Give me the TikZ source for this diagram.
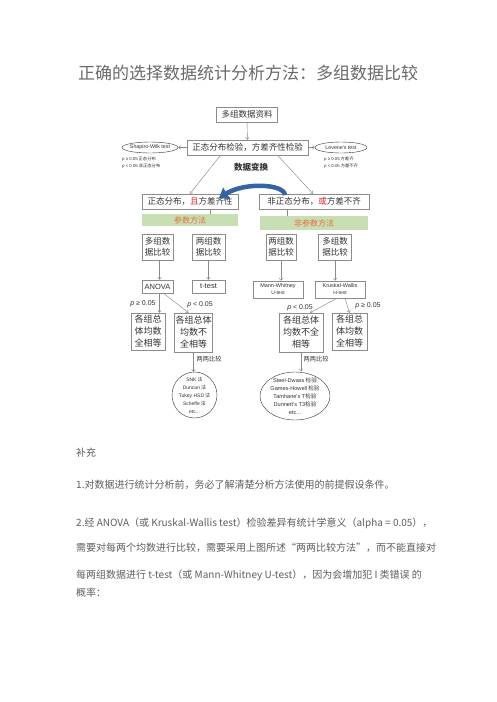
\documentclass[tikz,border=0pt]{standalone}
\usepackage{fontspec}
\setmainfont{Noto Sans CJK SC}
\newfontfamily\lat{Liberation Sans}
\usetikzlibrary{arrows.meta,shapes.geometric}
\definecolor{boxc}{HTML}{8C8C8C}
\definecolor{arrc}{HTML}{8A8A8A}
\definecolor{txt}{HTML}{333333}
\definecolor{bodyc}{HTML}{5E5E5E}
\definecolor{titlec}{HTML}{6A6A6A}
\definecolor{bandc}{HTML}{C8DFB4}
\definecolor{bandt}{HTML}{EB6A3C}
\definecolor{redc}{HTML}{E02020}
\definecolor{bluec}{HTML}{3463A6}
\begin{document}
\begin{tikzpicture}[x=1pt,y=-1pt,
  box/.style={draw=boxc, line width=0.5pt, inner sep=1pt, align=center, text=txt, font=\fontsize{8.5}{11}\selectfont},
  rbox/.style={box, font=\fontsize{9}{12}\selectfont},
  tbox/.style={box, font=\lat\fontsize{7.5}{9}\selectfont},
  band/.style={fill=bandc, inner sep=0pt, text=bandt, font=\fontsize{8}{10}\selectfont},
  ellshape/.style={draw=black!80, ellipse, line width=0.4pt, inner sep=0pt},
  elltext/.style={align=center, text=txt, inner sep=0pt},
  ln/.style={draw=arrc, line width=0.45pt},
  arr/.style={ln, -{Straight Barb[length=2.2pt,width=3.6pt]}},
  plab/.style={font=\lat\fontsize{7}{8}\selectfont, text=txt, inner sep=0pt},
  small/.style={font=\fontsize{4.3}{5.5}\selectfont, text=txt, inner sep=0pt, anchor=west},
  body/.style={anchor=west, inner sep=0pt, text=bodyc, font=\fontsize{10}{12}\selectfont}
]
\useasboundingbox[fill=white] (0,0) rectangle (496,702);

% title
\node[font=\fontsize{17}{20}\selectfont, text=titlec] (title) at (248,73) {正确的选择数据统计分析方法：多组数据比较};

% top part
\node[box, minimum width=61, minimum height=15] (top) at (247,114.5) {多组数据资料};
\node[box, minimum width=121, minimum height=15] (test) at (247.5,147.5) {正态分布检验，方差齐性检验};
\draw[arr] (top) -- (test);

\node[ellshape, minimum width=56, minimum height=11] (sw) at (150,147.5) {};
\node[elltext, font=\lat\fontsize{5.3}{6}\selectfont] (swt) at (sw) {Shapiro-Wilk test};
\node[ellshape, minimum width=52, minimum height=11] (lv) at (341,147.5) {};
\node[elltext, font=\lat\fontsize{5.3}{6}\selectfont] (lvt) at (lv) {Levene\textquotesingle s test};
\draw[arr] (test.west) -- (sw.east);
\draw[arr] (test.east) -- (lv.west);

\node[small] (sw1) at (122,159) {{\lat\textit{p} ≥ 0.05} 正态分布};
\node[small] (sw2) at (122,166) {{\lat\textit{p} < 0.05} 非正态分布};
\node[small] (lv1) at (324,159) {{\lat\textit{p} ≥ 0.05} 方差齐};
\node[small] (lv2) at (324,166) {{\lat\textit{p} < 0.05} 方差不齐};

\node[font=\bfseries\fontsize{8.5}{10}\selectfont, text=txt] (trans) at (251,167) {数据变换};

\node[box, minimum width=96, minimum height=15] (pn) at (190,201.5) {正态分布，\textcolor{redc}{且}方差齐性};
\node[box, minimum width=110, minimum height=15] (npn) at (314,201.5) {非正态分布，\textcolor{redc}{或}方差不齐};
\draw[arr] ([xshift=-27]test.south) -- (pn.north);
\draw[arr] ([xshift=30]test.south) -- ([xshift=-1]npn.north);

% blue curved arrow
\draw[bluec, line width=4.5pt, -{Triangle[length=9pt,width=13pt]}]
  (285,195) .. controls (284,184) and (245,182) .. (219,198);

% bands
\node[band, minimum width=96, minimum height=12] (pb) at (190,220) {参数方法};
\node[band, minimum width=108, minimum height=14] (npb) at (314,223) {非参数方法};
\draw[ln] ([xshift=20]pn.south) -- ([xshift=20]pn.south |- pb.north);
\draw[ln] ([xshift=-27]npn.south) -- ([xshift=-27]npn.south |- npb.north);

% sub boxes
\node[box, minimum width=31, minimum height=26] (s1) at (157.5,247) {多组数\\据比较};
\node[box, minimum width=33, minimum height=26] (s2) at (208.5,247) {两组数\\据比较};
\node[box, minimum width=30, minimum height=26] (s3) at (281,247) {两组数\\据比较};
\node[box, minimum width=33, minimum height=26] (s4) at (335,247) {多组数\\据比较};

% tests
\node[tbox, minimum width=31, minimum height=13] (a1) at (157.5,286.5) {ANOVA};
\node[tbox, minimum width=33, minimum height=13] (a2) at (208.5,286.5) {t-test};
\node[box, font=\lat\fontsize{5.5}{7}\selectfont, minimum width=50, minimum height=17] (a3) at (278,289.5) {Mann-Whitney\\{\fontsize{5}{6}\selectfont U-test}};
\node[box, font=\lat\fontsize{5.5}{7}\selectfont, minimum width=50, minimum height=17] (a4) at (340,289.5) {Kruskal-Wallis\\{\fontsize{5}{6}\selectfont H-test}};

\draw[arr] ([xshift=2]s1.south) -- ([xshift=2]s1.south |- a1.north);
\draw[arr] (s2.south) -- (s2.south |- a2.north);
\draw[arr] (s3.south) -- (s3.south |- a3.north);
\draw[arr] (s4.south) -- (s4.south |- a4.north);

% results
\node[rbox, minimum width=34, minimum height=37] (r1) at (148,331.5) {各组总\\体均数\\全相等};
\node[rbox, minimum width=37, minimum height=39] (r2) at (193.5,332.5) {各组总体\\均数不\\全相等};
\node[rbox, minimum width=44, minimum height=39] (r3) at (301,332.5) {各组总体\\均数不全\\相等};
\node[rbox, minimum width=35, minimum height=37] (r4) at (349.5,331.5) {各组总\\体均数\\全相等};

\draw[arr] ([xshift=2]a1.south) -- ([xshift=2]a1.south |- r1.north);
\draw[arr] ([xshift=6]a1.south) -- ([xshift=-5]r2.north);
\draw[arr] ([xshift=-3]a4.south) -- ([xshift=9]r3.north);
\draw[arr] ([xshift=5]a4.south) -- (r4.north);

\node[plab] (p1) at (143,304) {\textit{p} ≥ 0.05};
\node[plab] (p2) at (200,305) {\textit{p} < 0.05};
\node[plab] (p3) at (300,308) {\textit{p} < 0.05};
\node[plab] (p4) at (368,306) {\textit{p} ≥ 0.05};

% pairwise
\node[ellshape, minimum width=45, minimum height=46] (e1) at (194.5,395) {};
\node[ellshape, minimum width=70, minimum height=48] (e2) at (295,396) {};
\draw[arr] (r2.south) -- (r2.south |- e1.north);
\draw[arr] (r3.south) -- ([yshift=0.5]r3.south |- e2.north);
\node[anchor=west, inner sep=0pt, text=txt, font=\fontsize{6.2}{7}\selectfont] (l1) at (196.5,359) {两两比较};
\node[anchor=west, inner sep=0pt, text=txt, font=\fontsize{6.2}{7}\selectfont] (l2) at (303.5,359) {两两比较};

\node[elltext, font=\fontsize{5}{8}\selectfont] (e1t) at (e1) {{\lat SNK} 法\\{\lat Duncan} 法\\{\lat Tukey HSD} 法\\{\lat Scheffe} 法\\{\lat etc...}};
\node[elltext, font=\fontsize{5.6}{8}\selectfont] (e2t) at (e2) {{\lat Steel-Dwass} 检验\\{\lat Games-Howell} 检验\\{\lat Tamhane\textquotesingle s T}检验\\{\lat Dunnett\textquotesingle s T3}检验\\{\lat etc...}};

% body text
\node[body] (b0) at (76,453) {补充};
\node[body] (b1) at (76,485) {1.对数据进行统计分析前，务必了解清楚分析方法使用的前提假设条件。};
\node[body] (b2) at (76,523) {2.经 ANOVA（或 Kruskal-Wallis test）检验差异有统计学意义（alpha = 0.05），};
\node[body] (b3) at (76,548) {需要对每两个均数进行比较，需要采用上图所述“两两比较方法”，而不能直接对};
\node[body] (b4) at (76,575) {每两组数据进行 t-test（或 Mann-Whitney U-test），因为会增加犯 I 类错误 的};
\node[body] (b5) at (76,593) {概率：};
\end{tikzpicture}
\end{document}
